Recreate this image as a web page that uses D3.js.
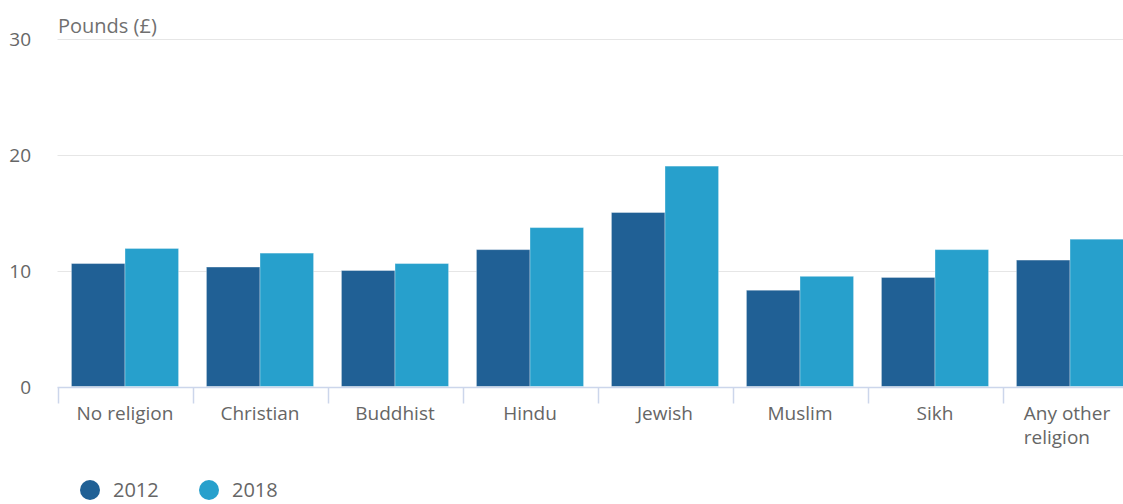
<!DOCTYPE html>
<html>
<head>
<meta charset="utf-8">
<script src="https://cdn.jsdelivr.net/npm/d3@7"></script>
<style>
  html, body { margin: 0; padding: 0; background: #fff; }
  svg { display: block; font-family: "Open Sans", sans-serif; }
</style>
</head>
<body>
<svg id="chart" width="1123" height="504"></svg>
<script>
const categories = ["No religion", "Christian", "Buddhist", "Hindu", "Jewish", "Muslim", "Sikh", "Any other religion"];
const years = ["2012", "2018"];
const values2012 = [10.6, 10.3, 10.0, 11.8, 15.0, 8.3, 9.4, 10.9];
const values2018 = [11.9, 11.5, 10.6, 13.7, 19.0, 9.5, 11.8, 12.7];
const yTicks = [0, 10, 20, 30];
const axisTitle = "Pounds (£)";
const colors = ["#206095", "#27a0cc"];

const seriesValues = [values2012, values2018];
const W = 1123, H = 504;
const left = 57.5, band = 135;
const svg = d3.select("#chart");

const x0 = d3.scaleBand().domain(categories).range([left, left + band * categories.length]).paddingInner(0).paddingOuter(0);
const x1 = d3.scaleBand().domain(years).range([0, x0.bandwidth()]).paddingInner(0).paddingOuter(0.26);
const y = d3.scaleLinear().domain([0, 30]).range([386.5, 38.5]);
const color = d3.scaleOrdinal().domain(years).range(colors);

// gridlines
svg.append("g").selectAll("line").data(yTicks.filter(t => t > 0)).join("line")
  .attr("x1", left).attr("x2", W)
  .attr("y1", d => Math.round(y(d)) + 0.5).attr("y2", d => Math.round(y(d)) + 0.5)
  .attr("stroke", "#e6e6e6").attr("stroke-width", 1);

// y tick labels
svg.append("g").selectAll("text").data(yTicks).join("text")
  .attr("x", 31).attr("y", d => y(d) + 7)
  .attr("text-anchor", "end")
  .attr("font-size", 19).attr("fill", "#666")
  .text(d => d);

// axis title
svg.append("text").attr("x", 58).attr("y", 33)
  .attr("font-size", 20).attr("fill", "#707070").text(axisTitle);

// bars
const groups = svg.append("g").selectAll("g").data(categories).join("g")
  .attr("transform", d => `translate(${x0(d)},0)`);
groups.selectAll("rect").data((d, i) => years.map((yr, k) => ({ yr, v: seriesValues[k][i] }))).join("rect")
  .attr("x", d => x1(d.yr))
  .attr("width", x1.bandwidth())
  .attr("y", d => y(d.v))
  .attr("height", d => y(0) - y(d.v))
  .attr("fill", d => color(d.yr))
  .attr("stroke", "#ffffff").attr("stroke-opacity", 0.35).attr("stroke-width", 1);

// x axis line
const axisY = Math.round(y(0)) + 0.5;
svg.append("line").attr("x1", left).attr("x2", W).attr("y1", axisY).attr("y2", axisY)
  .attr("stroke", "#ccd6eb").attr("stroke-width", 1.5);
// tick marks at band edges
const edges = categories.map(c => x0(c));
svg.append("g").selectAll("line").data(edges).join("line")
  .attr("x1", d => Math.round(d) + 0.5).attr("x2", d => Math.round(d) + 0.5)
  .attr("y1", axisY).attr("y2", axisY + 16)
  .attr("stroke", "#ccd6eb").attr("stroke-width", 1.5);

// x labels with wrapping
const maxW = 120;
const labels = svg.append("g");
categories.forEach(c => {
  const cx = x0(c) + x0.bandwidth() / 2;
  const t = labels.append("text").attr("font-size", 19).attr("fill", "#666").attr("y", 420);
  t.text(c);
  if (t.node().getComputedTextLength() <= maxW) {
    t.attr("x", cx).attr("text-anchor", "middle");
    return;
  }
  const words = c.split(" ");
  const lines = [];
  let cur = [];
  t.text("");
  const probe = labels.append("text").attr("font-size", 19);
  words.forEach(w => {
    const trial = cur.concat([w]).join(" ");
    probe.text(trial);
    if (probe.node().getComputedTextLength() > maxW && cur.length) {
      lines.push(cur.join(" "));
      cur = [w];
    } else cur.push(w);
  });
  lines.push(cur.join(" "));
  probe.text(lines[0]);
  const wFirst = probe.node().getComputedTextLength();
  probe.remove();
  let startX = cx - wFirst / 2 - 3;
  if (startX + wFirst > W) startX = W - wFirst;
  lines.forEach((ln, i) => {
    t.append("tspan").attr("x", startX).attr("dy", i === 0 ? 0 : 24).text(ln);
  });
});

// legend
const legend = svg.append("g");
const legendX = [90, 209];
years.forEach((yr, i) => {
  legend.append("circle").attr("cx", legendX[i]).attr("cy", 490).attr("r", 10).attr("fill", color(yr));
  legend.append("text").attr("x", legendX[i] + 23).attr("y", 497)
    .attr("font-size", 20).attr("fill", "#666").text(yr);
});
</script>
</body>
</html>
